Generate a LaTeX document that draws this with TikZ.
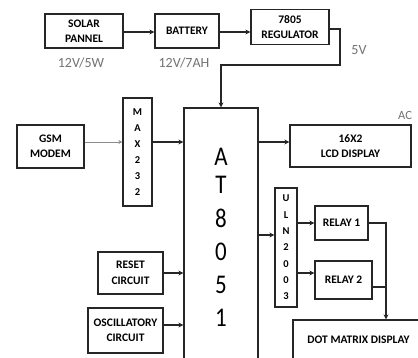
\documentclass[tikz,border=0pt]{standalone}
\usepackage{fontspec}
\setmainfont{Carlito}
\newfontfamily\chipfont[FakeStretch=0.85]{Carlito}
\usetikzlibrary{arrows.meta,positioning}
\tikzset{
    blk/.style={draw=black!85, line width=1.25pt, font=\bfseries\fontsize{11.5}{15.5}\selectfont, align=center, inner sep=0pt},
    conn/.style={draw=black!85, line width=1.2pt, -{Stealth[length=5pt,width=5pt]}},
    wire/.style={draw=black!85, line width=1.2pt},
    note/.style={text=black!55, font=\fontsize{14}{16}\selectfont}
}
\begin{document}
\begin{tikzpicture}[x=1pt,y=-1pt]
        \clip (0,0) rectangle (418,357);
        \fill[white] (0,0) rectangle (418,357);
        % power chain
        \node[blk, minimum width=78, minimum height=34] (solar) at (84,31) {SOLAR\\PANNEL};
        \node[blk, minimum width=64, minimum height=34] (battery) at (187,31) {BATTERY};
        \node[blk, minimum width=78, minimum height=35] (reg) at (290,27) {7805\\REGULATOR};
        \node[note] (lsolar) at (81,63) {12V/5W};
        \node[note] (lbattery) at (184,63) {12V/7AH};
        \node[note] (lreg) at (359,50) {5V};
        % controller
        \node[blk, minimum width=74, minimum height=300] (at) at (221,258) {};
        \foreach \c/\y in {A/157,T/185,8/218,0/252,5/285,1/318} {
            \node[font=\chipfont\fontsize{27}{27}\selectfont] at (221,\y) {\c};
        }
        % serial side
        \node[blk, minimum width=67, minimum height=43] (gsm) at (50.5,146.5) {GSM\\MODEM};
        \node[blk, minimum width=29, minimum height=108, font=\bfseries\fontsize{10.5}{16}\selectfont] (max) at (137.5,152) {M\\A\\X\\2\\3\\2};
        \node[blk, minimum width=121, minimum height=42] (lcd) at (350.5,146) {16X2\\LCD DISPLAY};
        \node[note, font=\fontsize{12.5}{14}\selectfont] (lac) at (405,115) {AC};
        % driver side
        \node[blk, minimum width=22, minimum height=119, font=\bfseries\fontsize{10.5}{16.3}\selectfont] (uln) at (286,247.5) {U\\L\\N\\2\\0\\0\\3};
        \node[blk, minimum width=53, minimum height=34] (relay1) at (341.5,223) {RELAY 1};
        \node[blk, minimum width=57, minimum height=38] (relay2) at (343.5,280) {RELAY 2};
        \node[blk, minimum width=131, minimum height=40] (dot) at (358.5,340) {DOT MATRIX DISPLAY};
        \node[blk, minimum width=65, minimum height=42] (reset) at (130.5,273) {RESET\\CIRCUIT};
        \node[blk, minimum width=75, minimum height=45] (osc) at (125.5,330.5) {OSCILLATORY\\CIRCUIT};
        % connectors
        \coordinate (pwr) at (340,65);
        \coordinate (ser) at (0,142);
        \coordinate (drv) at (0,235);
        \coordinate (rl) at (386,0);
        \draw[conn] (solar.east |- 0,32) -- (battery.west |- 0,32);
        \draw[conn] (battery.east |- 0,32) -- (reg.west |- 0,32);
        \draw[conn] (reg.east |- 0,29) -| (pwr) -| (at.north);
        \draw[line width=0.6pt, black!45, -{Stealth[length=4pt,width=4pt]}] (gsm.east |- ser) -- (max.west |- ser);
        \draw[conn] (max.east |- ser) -- (at.west |- ser);
        \draw[conn] (at.east |- ser) -- (lcd.west |- ser);
        \draw[conn] (at.east |- drv) -- (uln.west |- drv);
        \draw[conn] (uln.east |- relay1) -- (relay1.west);
        \draw[conn] (uln.east |- 0,273) -- (relay2.west |- 0,273);
        \draw[conn] (relay1.east) -| (rl |- dot.north);
        \draw[wire] (relay2.east |- 0,287) -| (rl |- 0,287);
        \draw[conn] (reset.east) -- (at.west |- reset.east);
        \draw[conn] (osc.east |- 0,325) -- (at.west |- 0,325);
    \end{tikzpicture}
\end{document}
